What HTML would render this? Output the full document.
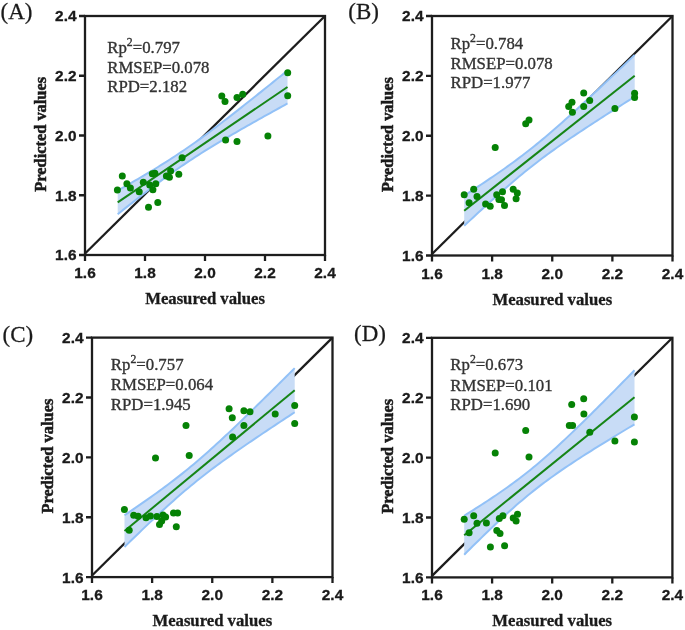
<!DOCTYPE html>
<html><head><meta charset="utf-8"><style>
html,body{margin:0;padding:0;background:#fff;}
svg{display:block;filter:blur(0.45px);}
.tk{font-family:"Liberation Sans",sans-serif;font-weight:bold;font-size:15.4px;fill:#1a1a1a;stroke:#1a1a1a;stroke-width:0.3px;}
.ti{font-family:"Liberation Serif",serif;font-weight:bold;font-size:16.7px;fill:#1a1a1a;stroke:#1a1a1a;stroke-width:0.3px;}
.an{font-family:"Liberation Serif",serif;font-size:16.8px;fill:#333333;stroke:#333333;stroke-width:0.35px;}
.sup{font-size:11.8px;}
.lb{font-family:"Liberation Serif",serif;font-size:23px;fill:#1a1a1a;stroke:#1a1a1a;stroke-width:0.25px;}
circle{fill:#058205;}
.tr{stroke:#1a1a1a;stroke-width:0.5px;font-size:16.4px;}
</style></head><body>
<svg width="685" height="630" viewBox="0 0 685 630">
<rect width="685" height="630" fill="#fff"/>
<line x1="85.3" y1="253.2" x2="325" y2="16" stroke="#1d1d1d" stroke-width="2.3"/>
<polygon points="117.7,190.61 120.58,188.98 123.46,187.34 126.33,185.69 129.21,184.04 132.09,182.38 134.97,180.72 137.85,179.04 140.72,177.36 143.6,175.66 146.48,173.95 149.36,172.23 152.24,170.5 155.11,168.76 157.99,166.99 160.87,165.21 163.75,163.42 166.63,161.6 169.5,159.76 172.38,157.91 175.26,156.03 178.14,154.13 181.02,152.2 183.89,150.25 186.77,148.28 189.65,146.29 192.53,144.27 195.41,142.23 198.28,140.17 201.16,138.08 204.04,135.98 206.92,133.86 209.79,131.72 212.67,129.57 215.55,127.4 218.43,125.21 221.31,123.02 224.18,120.81 227.06,118.59 229.94,116.36 232.82,114.12 235.7,111.87 238.57,109.61 241.45,107.35 244.33,105.08 247.21,102.81 250.09,100.52 252.96,98.24 255.84,95.95 258.72,93.65 261.6,91.35 264.48,89.05 267.35,86.74 270.23,84.43 273.11,82.12 275.99,79.81 278.87,77.49 281.74,75.17 284.62,72.85 287.5,70.52 287.5,103.48 284.62,105.07 281.74,106.66 278.87,108.25 275.99,109.84 273.11,111.44 270.23,113.04 267.35,114.64 264.48,116.24 261.6,117.85 258.72,119.47 255.84,121.08 252.96,122.7 250.09,124.33 247.21,125.96 244.33,127.6 241.45,129.24 238.57,130.89 235.7,132.54 232.82,134.21 229.94,135.88 227.06,137.56 224.18,139.25 221.31,140.96 218.43,142.67 215.55,144.4 212.67,146.14 209.79,147.9 206.92,149.67 204.04,151.46 201.16,153.27 198.28,155.1 195.41,156.95 192.53,158.82 189.65,160.72 186.77,162.63 183.89,164.57 181.02,166.54 178.14,168.52 175.26,170.53 172.38,172.57 169.5,174.62 166.63,176.7 163.75,178.79 160.87,180.91 157.99,183.04 155.11,185.19 152.24,187.36 149.36,189.53 146.48,191.73 143.6,193.93 140.72,196.15 137.85,198.38 134.97,200.61 132.09,202.86 129.21,205.11 126.33,207.37 123.46,209.64 120.58,211.91 117.7,214.19" fill="#c8dcf6"/>
<polyline points="117.7,190.61 120.58,188.98 123.46,187.34 126.33,185.69 129.21,184.04 132.09,182.38 134.97,180.72 137.85,179.04 140.72,177.36 143.6,175.66 146.48,173.95 149.36,172.23 152.24,170.5 155.11,168.76 157.99,166.99 160.87,165.21 163.75,163.42 166.63,161.6 169.5,159.76 172.38,157.91 175.26,156.03 178.14,154.13 181.02,152.2 183.89,150.25 186.77,148.28 189.65,146.29 192.53,144.27 195.41,142.23 198.28,140.17 201.16,138.08 204.04,135.98 206.92,133.86 209.79,131.72 212.67,129.57 215.55,127.4 218.43,125.21 221.31,123.02 224.18,120.81 227.06,118.59 229.94,116.36 232.82,114.12 235.7,111.87 238.57,109.61 241.45,107.35 244.33,105.08 247.21,102.81 250.09,100.52 252.96,98.24 255.84,95.95 258.72,93.65 261.6,91.35 264.48,89.05 267.35,86.74 270.23,84.43 273.11,82.12 275.99,79.81 278.87,77.49 281.74,75.17 284.62,72.85 287.5,70.52" fill="none" stroke="#92c1f7" stroke-width="2.0"/>
<polyline points="117.7,214.19 120.58,211.91 123.46,209.64 126.33,207.37 129.21,205.11 132.09,202.86 134.97,200.61 137.85,198.38 140.72,196.15 143.6,193.93 146.48,191.73 149.36,189.53 152.24,187.36 155.11,185.19 157.99,183.04 160.87,180.91 163.75,178.79 166.63,176.7 169.5,174.62 172.38,172.57 175.26,170.53 178.14,168.52 181.02,166.54 183.89,164.57 186.77,162.63 189.65,160.72 192.53,158.82 195.41,156.95 198.28,155.1 201.16,153.27 204.04,151.46 206.92,149.67 209.79,147.9 212.67,146.14 215.55,144.4 218.43,142.67 221.31,140.96 224.18,139.25 227.06,137.56 229.94,135.88 232.82,134.21 235.7,132.54 238.57,130.89 241.45,129.24 244.33,127.6 247.21,125.96 250.09,124.33 252.96,122.7 255.84,121.08 258.72,119.47 261.6,117.85 264.48,116.24 267.35,114.64 270.23,113.04 273.11,111.44 275.99,109.84 278.87,108.25 281.74,106.66 284.62,105.07 287.5,103.48" fill="none" stroke="#92c1f7" stroke-width="2.0"/>
<line x1="117.7" y1="202.4" x2="287.5" y2="87" stroke="#168516" stroke-width="2.0"/>
<circle cx="117.4" cy="190.1" r="3.5"/>
<circle cx="122.3" cy="175.9" r="3.5"/>
<circle cx="126.9" cy="183.7" r="3.5"/>
<circle cx="130.4" cy="187.9" r="3.5"/>
<circle cx="139.2" cy="191.7" r="3.5"/>
<circle cx="143.3" cy="182.3" r="3.5"/>
<circle cx="148.5" cy="207.3" r="3.5"/>
<circle cx="149.7" cy="185.1" r="3.5"/>
<circle cx="152.3" cy="173.8" r="3.5"/>
<circle cx="154.9" cy="173.3" r="3.5"/>
<circle cx="155.8" cy="183.8" r="3.5"/>
<circle cx="152.9" cy="189.7" r="3.5"/>
<circle cx="157.8" cy="202.4" r="3.5"/>
<circle cx="166.4" cy="176.1" r="3.5"/>
<circle cx="169.4" cy="177.3" r="3.5"/>
<circle cx="170.6" cy="171" r="3.5"/>
<circle cx="178.8" cy="174.3" r="3.5"/>
<circle cx="182.1" cy="157.7" r="3.5"/>
<circle cx="221.8" cy="96.1" r="3.5"/>
<circle cx="225" cy="101.4" r="3.5"/>
<circle cx="225.6" cy="140.1" r="3.5"/>
<circle cx="237" cy="97.6" r="3.5"/>
<circle cx="237" cy="141.6" r="3.5"/>
<circle cx="242.7" cy="94.2" r="3.5"/>
<circle cx="267.9" cy="135.9" r="3.5"/>
<circle cx="287.7" cy="72.7" r="3.5"/>
<circle cx="287.7" cy="95.7" r="3.5"/>
<rect x="85" y="16" width="240" height="239" fill="none" stroke="#1d1d1d" stroke-width="2.3"/>
<path d="M85 255v6M85 255h-6M145 255v6M85 195.25h-6M205 255v6M85 135.5h-6M265 255v6M85 75.75h-6M325 255v6M85 16h-6" stroke="#1d1d1d" stroke-width="2.3" fill="none"/>
<text class="tk" x="85" y="278" text-anchor="middle">1.6</text>
<text class="tk" x="76.5" y="260.4" text-anchor="end">1.6</text>
<text class="tk" x="145" y="278" text-anchor="middle">1.8</text>
<text class="tk" x="76.5" y="200.65" text-anchor="end">1.8</text>
<text class="tk" x="205" y="278" text-anchor="middle">2.0</text>
<text class="tk" x="76.5" y="140.9" text-anchor="end">2.0</text>
<text class="tk" x="265" y="278" text-anchor="middle">2.2</text>
<text class="tk" x="76.5" y="81.15" text-anchor="end">2.2</text>
<text class="tk" x="325" y="278" text-anchor="middle">2.4</text>
<text class="tk" x="76.5" y="21.4" text-anchor="end">2.4</text>
<text class="ti" x="205" y="304" text-anchor="middle">Measured values</text>
<text class="ti tr" transform="translate(46,134.3) rotate(-90)" text-anchor="middle">Predicted values</text>
<text class="an" x="107.2" y="53.3">Rp<tspan class="sup" dy="-7.2">2</tspan><tspan dy="7.2">=</tspan>0.797</text>
<text class="an" x="107.2" y="72.8">RMSEP=0.078</text>
<text class="an" x="107.2" y="92.3">RPD=2.182</text>
<text class="lb" x="0.5" y="19.3">(</text>
<text class="lb" transform="translate(8.16,19.3) scale(1,1.04)">A</text>
<text class="lb" x="24.77" y="19.3">)</text>
<line x1="432.3" y1="253.7" x2="672.5" y2="16" stroke="#1d1d1d" stroke-width="2.3"/>
<polygon points="464.2,195.63 467.09,193.76 469.98,191.88 472.87,189.99 475.76,188.09 478.65,186.19 481.54,184.27 484.43,182.34 487.32,180.41 490.21,178.45 493.1,176.49 495.99,174.5 498.88,172.51 501.77,170.49 504.66,168.45 507.55,166.39 510.44,164.31 513.33,162.21 516.22,160.08 519.11,157.92 522,155.74 524.89,153.53 527.78,151.28 530.67,149.01 533.56,146.71 536.45,144.38 539.34,142.02 542.23,139.63 545.12,137.21 548.01,134.76 550.89,132.29 553.78,129.8 556.67,127.29 559.56,124.75 562.45,122.19 565.34,119.62 568.23,117.03 571.12,114.42 574.01,111.8 576.9,109.16 579.79,106.52 582.68,103.86 585.57,101.19 588.46,98.52 591.35,95.83 594.24,93.14 597.13,90.44 600.02,87.73 602.91,85.02 605.8,82.3 608.69,79.58 611.58,76.85 614.47,74.12 617.36,71.38 620.25,68.64 623.14,65.9 626.03,63.15 628.92,60.4 631.81,57.65 634.7,54.89 634.7,96.71 631.81,98.52 628.92,100.34 626.03,102.17 623.14,103.99 620.25,105.82 617.36,107.65 614.47,109.49 611.58,111.33 608.69,113.18 605.8,115.03 602.91,116.88 600.02,118.74 597.13,120.61 594.24,122.48 591.35,124.36 588.46,126.25 585.57,128.15 582.68,130.05 579.79,131.97 576.9,133.89 574.01,135.83 571.12,137.78 568.23,139.75 565.34,141.73 562.45,143.73 559.56,145.75 556.67,147.78 553.78,149.84 550.89,151.92 548.01,154.02 545.12,156.15 542.23,158.31 539.34,160.49 536.45,162.7 533.56,164.94 530.67,167.21 527.78,169.51 524.89,171.84 522,174.2 519.11,176.59 516.22,179.01 513.33,181.45 510.44,183.92 507.55,186.41 504.66,188.93 501.77,191.46 498.88,194.02 495.99,196.59 493.1,199.18 490.21,201.79 487.32,204.41 484.43,207.05 481.54,209.69 478.65,212.35 475.76,215.01 472.87,217.69 469.98,220.37 467.09,223.07 464.2,225.77" fill="#c8dcf6"/>
<polyline points="464.2,195.63 467.09,193.76 469.98,191.88 472.87,189.99 475.76,188.09 478.65,186.19 481.54,184.27 484.43,182.34 487.32,180.41 490.21,178.45 493.1,176.49 495.99,174.5 498.88,172.51 501.77,170.49 504.66,168.45 507.55,166.39 510.44,164.31 513.33,162.21 516.22,160.08 519.11,157.92 522,155.74 524.89,153.53 527.78,151.28 530.67,149.01 533.56,146.71 536.45,144.38 539.34,142.02 542.23,139.63 545.12,137.21 548.01,134.76 550.89,132.29 553.78,129.8 556.67,127.29 559.56,124.75 562.45,122.19 565.34,119.62 568.23,117.03 571.12,114.42 574.01,111.8 576.9,109.16 579.79,106.52 582.68,103.86 585.57,101.19 588.46,98.52 591.35,95.83 594.24,93.14 597.13,90.44 600.02,87.73 602.91,85.02 605.8,82.3 608.69,79.58 611.58,76.85 614.47,74.12 617.36,71.38 620.25,68.64 623.14,65.9 626.03,63.15 628.92,60.4 631.81,57.65 634.7,54.89" fill="none" stroke="#92c1f7" stroke-width="2.0"/>
<polyline points="464.2,225.77 467.09,223.07 469.98,220.37 472.87,217.69 475.76,215.01 478.65,212.35 481.54,209.69 484.43,207.05 487.32,204.41 490.21,201.79 493.1,199.18 495.99,196.59 498.88,194.02 501.77,191.46 504.66,188.93 507.55,186.41 510.44,183.92 513.33,181.45 516.22,179.01 519.11,176.59 522,174.2 524.89,171.84 527.78,169.51 530.67,167.21 533.56,164.94 536.45,162.7 539.34,160.49 542.23,158.31 545.12,156.15 548.01,154.02 550.89,151.92 553.78,149.84 556.67,147.78 559.56,145.75 562.45,143.73 565.34,141.73 568.23,139.75 571.12,137.78 574.01,135.83 576.9,133.89 579.79,131.97 582.68,130.05 585.57,128.15 588.46,126.25 591.35,124.36 594.24,122.48 597.13,120.61 600.02,118.74 602.91,116.88 605.8,115.03 608.69,113.18 611.58,111.33 614.47,109.49 617.36,107.65 620.25,105.82 623.14,103.99 626.03,102.17 628.92,100.34 631.81,98.52 634.7,96.71" fill="none" stroke="#92c1f7" stroke-width="2.0"/>
<line x1="464.2" y1="210.7" x2="634.7" y2="75.8" stroke="#168516" stroke-width="2.0"/>
<circle cx="464.2" cy="194.8" r="3.5"/>
<circle cx="469.1" cy="202.7" r="3.5"/>
<circle cx="473.7" cy="189.2" r="3.5"/>
<circle cx="477" cy="196.6" r="3.5"/>
<circle cx="485.6" cy="204" r="3.5"/>
<circle cx="490.2" cy="206.3" r="3.5"/>
<circle cx="495.2" cy="147.6" r="3.5"/>
<circle cx="496.7" cy="194.8" r="3.5"/>
<circle cx="498.9" cy="199.6" r="3.5"/>
<circle cx="502.5" cy="191.8" r="3.5"/>
<circle cx="501.5" cy="199.8" r="3.5"/>
<circle cx="504.5" cy="205.5" r="3.5"/>
<circle cx="513.2" cy="189.2" r="3.5"/>
<circle cx="517.3" cy="193" r="3.5"/>
<circle cx="516.1" cy="198.8" r="3.5"/>
<circle cx="525.7" cy="123.8" r="3.5"/>
<circle cx="529" cy="119.9" r="3.5"/>
<circle cx="568.7" cy="106.4" r="3.5"/>
<circle cx="572" cy="102.2" r="3.5"/>
<circle cx="572.4" cy="112.3" r="3.5"/>
<circle cx="583.7" cy="93.1" r="3.5"/>
<circle cx="583.7" cy="106.4" r="3.5"/>
<circle cx="589.7" cy="100.5" r="3.5"/>
<circle cx="614.9" cy="108.6" r="3.5"/>
<circle cx="634.6" cy="93.3" r="3.5"/>
<circle cx="634.6" cy="97.6" r="3.5"/>
<rect x="432" y="16" width="240.5" height="239.5" fill="none" stroke="#1d1d1d" stroke-width="2.3"/>
<path d="M432 255.5v6M432 255.5h-6M492.12 255.5v6M432 195.62h-6M552.25 255.5v6M432 135.75h-6M612.38 255.5v6M432 75.88h-6M672.5 255.5v6M432 16h-6" stroke="#1d1d1d" stroke-width="2.3" fill="none"/>
<text class="tk" x="432" y="278.5" text-anchor="middle">1.6</text>
<text class="tk" x="423.5" y="260.9" text-anchor="end">1.6</text>
<text class="tk" x="492.12" y="278.5" text-anchor="middle">1.8</text>
<text class="tk" x="423.5" y="201.03" text-anchor="end">1.8</text>
<text class="tk" x="552.25" y="278.5" text-anchor="middle">2.0</text>
<text class="tk" x="423.5" y="141.15" text-anchor="end">2.0</text>
<text class="tk" x="612.38" y="278.5" text-anchor="middle">2.2</text>
<text class="tk" x="423.5" y="81.28" text-anchor="end">2.2</text>
<text class="tk" x="672.5" y="278.5" text-anchor="middle">2.4</text>
<text class="tk" x="423.5" y="21.4" text-anchor="end">2.4</text>
<text class="ti" x="552.25" y="304.5" text-anchor="middle">Measured values</text>
<text class="ti tr" transform="translate(393,134.55) rotate(-90)" text-anchor="middle">Predicted values</text>
<text class="an" x="450.5" y="49.3">Rp<tspan class="sup" dy="-7.2">2</tspan><tspan dy="7.2">=</tspan>0.784</text>
<text class="an" x="450.5" y="68.8">RMSEP=0.078</text>
<text class="an" x="450.5" y="88.4">RPD=1.977</text>
<text class="lb" x="348.3" y="19.2">(</text>
<text class="lb" transform="translate(355.96,19.2) scale(1,1.04)">B</text>
<text class="lb" x="371.3" y="19.2">)</text>
<line x1="92.3" y1="575.3" x2="332.5" y2="337.6" stroke="#1d1d1d" stroke-width="2.3"/>
<polygon points="124.5,515.25 127.38,513.3 130.27,511.34 133.15,509.37 136.04,507.39 138.92,505.4 141.81,503.4 144.69,501.39 147.58,499.36 150.46,497.33 153.35,495.27 156.23,493.2 159.12,491.12 162,489.01 164.89,486.89 167.77,484.74 170.66,482.56 173.54,480.36 176.43,478.14 179.31,475.89 182.19,473.6 185.08,471.29 187.96,468.95 190.85,466.57 193.73,464.17 196.62,461.73 199.5,459.26 202.39,456.76 205.27,454.23 208.16,451.68 211.04,449.09 213.93,446.49 216.81,443.86 219.7,441.2 222.58,438.53 225.47,435.84 228.35,433.13 231.24,430.4 234.12,427.66 237.01,424.9 239.89,422.14 242.77,419.36 245.66,416.57 248.54,413.77 251.43,410.96 254.31,408.15 257.2,405.32 260.08,402.49 262.97,399.66 265.85,396.81 268.74,393.96 271.62,391.11 274.51,388.25 277.39,385.39 280.28,382.52 283.16,379.66 286.05,376.78 288.93,373.91 291.82,371.03 294.7,368.14 294.7,412.26 291.82,414.15 288.93,416.05 286.05,417.95 283.16,419.85 280.28,421.76 277.39,423.67 274.51,425.58 271.62,427.5 268.74,429.42 265.85,431.35 262.97,433.28 260.08,435.22 257.2,437.17 254.31,439.12 251.43,441.08 248.54,443.05 245.66,445.03 242.77,447.01 239.89,449.01 237.01,451.02 234.12,453.04 231.24,455.08 228.35,457.13 225.47,459.19 222.58,461.28 219.7,463.38 216.81,465.5 213.93,467.65 211.04,469.82 208.16,472.01 205.27,474.23 202.39,476.48 199.5,478.76 196.62,481.06 193.73,483.4 190.85,485.77 187.96,488.17 185.08,490.61 182.19,493.07 179.31,495.56 176.43,498.09 173.54,500.64 170.66,503.22 167.77,505.82 164.89,508.45 162,511.1 159.12,513.77 156.23,516.46 153.35,519.16 150.46,521.89 147.58,524.63 144.69,527.38 141.81,530.14 138.92,532.92 136.04,535.71 133.15,538.51 130.27,541.31 127.38,544.13 124.5,546.95" fill="#c8dcf6"/>
<polyline points="124.5,515.25 127.38,513.3 130.27,511.34 133.15,509.37 136.04,507.39 138.92,505.4 141.81,503.4 144.69,501.39 147.58,499.36 150.46,497.33 153.35,495.27 156.23,493.2 159.12,491.12 162,489.01 164.89,486.89 167.77,484.74 170.66,482.56 173.54,480.36 176.43,478.14 179.31,475.89 182.19,473.6 185.08,471.29 187.96,468.95 190.85,466.57 193.73,464.17 196.62,461.73 199.5,459.26 202.39,456.76 205.27,454.23 208.16,451.68 211.04,449.09 213.93,446.49 216.81,443.86 219.7,441.2 222.58,438.53 225.47,435.84 228.35,433.13 231.24,430.4 234.12,427.66 237.01,424.9 239.89,422.14 242.77,419.36 245.66,416.57 248.54,413.77 251.43,410.96 254.31,408.15 257.2,405.32 260.08,402.49 262.97,399.66 265.85,396.81 268.74,393.96 271.62,391.11 274.51,388.25 277.39,385.39 280.28,382.52 283.16,379.66 286.05,376.78 288.93,373.91 291.82,371.03 294.7,368.14" fill="none" stroke="#92c1f7" stroke-width="2.0"/>
<polyline points="124.5,546.95 127.38,544.13 130.27,541.31 133.15,538.51 136.04,535.71 138.92,532.92 141.81,530.14 144.69,527.38 147.58,524.63 150.46,521.89 153.35,519.16 156.23,516.46 159.12,513.77 162,511.1 164.89,508.45 167.77,505.82 170.66,503.22 173.54,500.64 176.43,498.09 179.31,495.56 182.19,493.07 185.08,490.61 187.96,488.17 190.85,485.77 193.73,483.4 196.62,481.06 199.5,478.76 202.39,476.48 205.27,474.23 208.16,472.01 211.04,469.82 213.93,467.65 216.81,465.5 219.7,463.38 222.58,461.28 225.47,459.19 228.35,457.13 231.24,455.08 234.12,453.04 237.01,451.02 239.89,449.01 242.77,447.01 245.66,445.03 248.54,443.05 251.43,441.08 254.31,439.12 257.2,437.17 260.08,435.22 262.97,433.28 265.85,431.35 268.74,429.42 271.62,427.5 274.51,425.58 277.39,423.67 280.28,421.76 283.16,419.85 286.05,417.95 288.93,416.05 291.82,414.15 294.7,412.26" fill="none" stroke="#92c1f7" stroke-width="2.0"/>
<line x1="124.5" y1="531.1" x2="294.7" y2="390.2" stroke="#168516" stroke-width="2.0"/>
<circle cx="124.4" cy="509.5" r="3.5"/>
<circle cx="129.2" cy="530.2" r="3.5"/>
<circle cx="133.7" cy="515.2" r="3.5"/>
<circle cx="138.1" cy="516.2" r="3.5"/>
<circle cx="146" cy="517.8" r="3.5"/>
<circle cx="150.4" cy="515.9" r="3.5"/>
<circle cx="155.5" cy="458" r="3.5"/>
<circle cx="156.9" cy="516.5" r="3.5"/>
<circle cx="159.5" cy="524.4" r="3.5"/>
<circle cx="161.7" cy="521" r="3.5"/>
<circle cx="163" cy="514.9" r="3.5"/>
<circle cx="165.6" cy="517.1" r="3.5"/>
<circle cx="173.5" cy="513" r="3.5"/>
<circle cx="177.6" cy="513" r="3.5"/>
<circle cx="176.3" cy="526.7" r="3.5"/>
<circle cx="186" cy="425.5" r="3.5"/>
<circle cx="189.2" cy="455.5" r="3.5"/>
<circle cx="229.1" cy="408.7" r="3.5"/>
<circle cx="232.3" cy="417.8" r="3.5"/>
<circle cx="232.6" cy="437.1" r="3.5"/>
<circle cx="243.9" cy="410.8" r="3.5"/>
<circle cx="243.9" cy="425.4" r="3.5"/>
<circle cx="250" cy="411.8" r="3.5"/>
<circle cx="275.2" cy="413.9" r="3.5"/>
<circle cx="294.7" cy="405.4" r="3.5"/>
<circle cx="294.7" cy="423.5" r="3.5"/>
<rect x="92" y="337.6" width="240.5" height="239.5" fill="none" stroke="#1d1d1d" stroke-width="2.3"/>
<path d="M92 577.1v6M92 577.1h-6M152.12 577.1v6M92 517.23h-6M212.25 577.1v6M92 457.35h-6M272.38 577.1v6M92 397.48h-6M332.5 577.1v6M92 337.6h-6" stroke="#1d1d1d" stroke-width="2.3" fill="none"/>
<text class="tk" x="92" y="600.1" text-anchor="middle">1.6</text>
<text class="tk" x="83.5" y="582.5" text-anchor="end">1.6</text>
<text class="tk" x="152.12" y="600.1" text-anchor="middle">1.8</text>
<text class="tk" x="83.5" y="522.62" text-anchor="end">1.8</text>
<text class="tk" x="212.25" y="600.1" text-anchor="middle">2.0</text>
<text class="tk" x="83.5" y="462.75" text-anchor="end">2.0</text>
<text class="tk" x="272.38" y="600.1" text-anchor="middle">2.2</text>
<text class="tk" x="83.5" y="402.88" text-anchor="end">2.2</text>
<text class="tk" x="332.5" y="600.1" text-anchor="middle">2.4</text>
<text class="tk" x="83.5" y="343" text-anchor="end">2.4</text>
<text class="ti" x="212.25" y="626.1" text-anchor="middle">Measured values</text>
<text class="ti tr" transform="translate(53,456.15) rotate(-90)" text-anchor="middle">Predicted values</text>
<text class="an" x="110.8" y="370.4">Rp<tspan class="sup" dy="-7.2">2</tspan><tspan dy="7.2">=</tspan>0.757</text>
<text class="an" x="110.8" y="390.4">RMSEP=0.064</text>
<text class="an" x="110.8" y="409.9">RPD=1.945</text>
<text class="lb" x="2.6" y="341.5">(</text>
<text class="lb" transform="translate(10.26,341.5) scale(1,1.04)">C</text>
<text class="lb" x="25.6" y="341.5">)</text>
<line x1="432.3" y1="575.6" x2="672.4" y2="337.8" stroke="#1d1d1d" stroke-width="2.3"/>
<polygon points="464.2,515.73 467.09,513.93 469.97,512.11 472.86,510.29 475.75,508.46 478.63,506.61 481.52,504.75 484.41,502.88 487.29,500.99 490.18,499.08 493.06,497.16 495.95,495.21 498.84,493.25 501.72,491.26 504.61,489.24 507.5,487.2 510.38,485.13 513.27,483.03 516.16,480.9 519.04,478.73 521.93,476.52 524.82,474.28 527.7,472 530.59,469.68 533.47,467.33 536.36,464.93 539.25,462.5 542.13,460.03 545.02,457.52 547.91,454.98 550.79,452.41 553.68,449.8 556.57,447.17 559.45,444.51 562.34,441.82 565.23,439.11 568.11,436.38 571,433.63 573.88,430.86 576.77,428.08 579.66,425.28 582.54,422.46 585.43,419.63 588.32,416.79 591.2,413.94 594.09,411.08 596.98,408.21 599.86,405.33 602.75,402.44 605.64,399.55 608.52,396.65 611.41,393.74 614.29,390.83 617.18,387.91 620.07,384.98 622.95,382.06 625.84,379.12 628.73,376.19 631.61,373.25 634.5,370.31 634.5,424.29 631.61,426.03 628.73,427.76 625.84,429.5 622.95,431.24 620.07,432.99 617.18,434.74 614.29,436.5 611.41,438.26 608.52,440.03 605.64,441.8 602.75,443.58 599.86,445.37 596.98,447.16 594.09,448.97 591.2,450.78 588.32,452.6 585.43,454.44 582.54,456.28 579.66,458.14 576.77,460.01 573.88,461.9 571,463.81 568.11,465.73 565.23,467.68 562.34,469.64 559.45,471.63 556.57,473.64 553.68,475.69 550.79,477.76 547.91,479.86 545.02,481.99 542.13,484.16 539.25,486.36 536.36,488.61 533.47,490.88 530.59,493.2 527.7,495.56 524.82,497.95 521.93,500.39 519.04,502.86 516.16,505.36 513.27,507.9 510.38,510.47 507.5,513.08 504.61,515.71 501.72,518.37 498.84,521.06 495.95,523.76 493.06,526.5 490.18,529.25 487.29,532.01 484.41,534.8 481.52,537.6 478.63,540.42 475.75,543.24 472.86,546.08 469.97,548.94 467.09,551.8 464.2,554.67" fill="#c8dcf6"/>
<polyline points="464.2,515.73 467.09,513.93 469.97,512.11 472.86,510.29 475.75,508.46 478.63,506.61 481.52,504.75 484.41,502.88 487.29,500.99 490.18,499.08 493.06,497.16 495.95,495.21 498.84,493.25 501.72,491.26 504.61,489.24 507.5,487.2 510.38,485.13 513.27,483.03 516.16,480.9 519.04,478.73 521.93,476.52 524.82,474.28 527.7,472 530.59,469.68 533.47,467.33 536.36,464.93 539.25,462.5 542.13,460.03 545.02,457.52 547.91,454.98 550.79,452.41 553.68,449.8 556.57,447.17 559.45,444.51 562.34,441.82 565.23,439.11 568.11,436.38 571,433.63 573.88,430.86 576.77,428.08 579.66,425.28 582.54,422.46 585.43,419.63 588.32,416.79 591.2,413.94 594.09,411.08 596.98,408.21 599.86,405.33 602.75,402.44 605.64,399.55 608.52,396.65 611.41,393.74 614.29,390.83 617.18,387.91 620.07,384.98 622.95,382.06 625.84,379.12 628.73,376.19 631.61,373.25 634.5,370.31" fill="none" stroke="#92c1f7" stroke-width="2.0"/>
<polyline points="464.2,554.67 467.09,551.8 469.97,548.94 472.86,546.08 475.75,543.24 478.63,540.42 481.52,537.6 484.41,534.8 487.29,532.01 490.18,529.25 493.06,526.5 495.95,523.76 498.84,521.06 501.72,518.37 504.61,515.71 507.5,513.08 510.38,510.47 513.27,507.9 516.16,505.36 519.04,502.86 521.93,500.39 524.82,497.95 527.7,495.56 530.59,493.2 533.47,490.88 536.36,488.61 539.25,486.36 542.13,484.16 545.02,481.99 547.91,479.86 550.79,477.76 553.68,475.69 556.57,473.64 559.45,471.63 562.34,469.64 565.23,467.68 568.11,465.73 571,463.81 573.88,461.9 576.77,460.01 579.66,458.14 582.54,456.28 585.43,454.44 588.32,452.6 591.2,450.78 594.09,448.97 596.98,447.16 599.86,445.37 602.75,443.58 605.64,441.8 608.52,440.03 611.41,438.26 614.29,436.5 617.18,434.74 620.07,432.99 622.95,431.24 625.84,429.5 628.73,427.76 631.61,426.03 634.5,424.29" fill="none" stroke="#92c1f7" stroke-width="2.0"/>
<line x1="464.2" y1="535.2" x2="634.5" y2="397.3" stroke="#168516" stroke-width="2.0"/>
<circle cx="464.2" cy="519.2" r="3.5"/>
<circle cx="469.1" cy="532.7" r="3.5"/>
<circle cx="473.7" cy="515.8" r="3.5"/>
<circle cx="477" cy="523.3" r="3.5"/>
<circle cx="486.4" cy="522.9" r="3.5"/>
<circle cx="490.4" cy="547.1" r="3.5"/>
<circle cx="495.2" cy="452.9" r="3.5"/>
<circle cx="496.8" cy="530.4" r="3.5"/>
<circle cx="499.3" cy="518.6" r="3.5"/>
<circle cx="500" cy="533.6" r="3.5"/>
<circle cx="502.9" cy="515.7" r="3.5"/>
<circle cx="504.6" cy="545.7" r="3.5"/>
<circle cx="513.2" cy="517.9" r="3.5"/>
<circle cx="517.5" cy="514.3" r="3.5"/>
<circle cx="516.1" cy="521.1" r="3.5"/>
<circle cx="525.7" cy="430.5" r="3.5"/>
<circle cx="529" cy="457.1" r="3.5"/>
<circle cx="569.3" cy="425.5" r="3.5"/>
<circle cx="572.6" cy="425.5" r="3.5"/>
<circle cx="571.7" cy="404.5" r="3.5"/>
<circle cx="583.7" cy="398.7" r="3.5"/>
<circle cx="583.9" cy="414.1" r="3.5"/>
<circle cx="589.8" cy="432.2" r="3.5"/>
<circle cx="614.9" cy="441" r="3.5"/>
<circle cx="634.4" cy="416.9" r="3.5"/>
<circle cx="634.4" cy="442.1" r="3.5"/>
<rect x="432" y="337.8" width="240.4" height="239.6" fill="none" stroke="#1d1d1d" stroke-width="2.3"/>
<path d="M432 577.4v6M432 577.4h-6M492.1 577.4v6M432 517.5h-6M552.2 577.4v6M432 457.6h-6M612.3 577.4v6M432 397.7h-6M672.4 577.4v6M432 337.8h-6" stroke="#1d1d1d" stroke-width="2.3" fill="none"/>
<text class="tk" x="432" y="600.4" text-anchor="middle">1.6</text>
<text class="tk" x="423.5" y="582.8" text-anchor="end">1.6</text>
<text class="tk" x="492.1" y="600.4" text-anchor="middle">1.8</text>
<text class="tk" x="423.5" y="522.9" text-anchor="end">1.8</text>
<text class="tk" x="552.2" y="600.4" text-anchor="middle">2.0</text>
<text class="tk" x="423.5" y="463" text-anchor="end">2.0</text>
<text class="tk" x="612.3" y="600.4" text-anchor="middle">2.2</text>
<text class="tk" x="423.5" y="403.1" text-anchor="end">2.2</text>
<text class="tk" x="672.4" y="600.4" text-anchor="middle">2.4</text>
<text class="tk" x="423.5" y="343.2" text-anchor="end">2.4</text>
<text class="ti" x="552.2" y="626.4" text-anchor="middle">Measured values</text>
<text class="ti tr" transform="translate(393,456.4) rotate(-90)" text-anchor="middle">Predicted values</text>
<text class="an" x="450.3" y="370.4">Rp<tspan class="sup" dy="-7.2">2</tspan><tspan dy="7.2">=</tspan>0.673</text>
<text class="an" x="450.3" y="390.6">RMSEP=0.101</text>
<text class="an" x="450.3" y="409.9">RPD=1.690</text>
<text class="lb" x="354.1" y="341.1">(</text>
<text class="lb" transform="translate(361.76,341.1) scale(1,1.04)">D</text>
<text class="lb" x="378.37" y="341.1">)</text>
</svg>
</body></html>
